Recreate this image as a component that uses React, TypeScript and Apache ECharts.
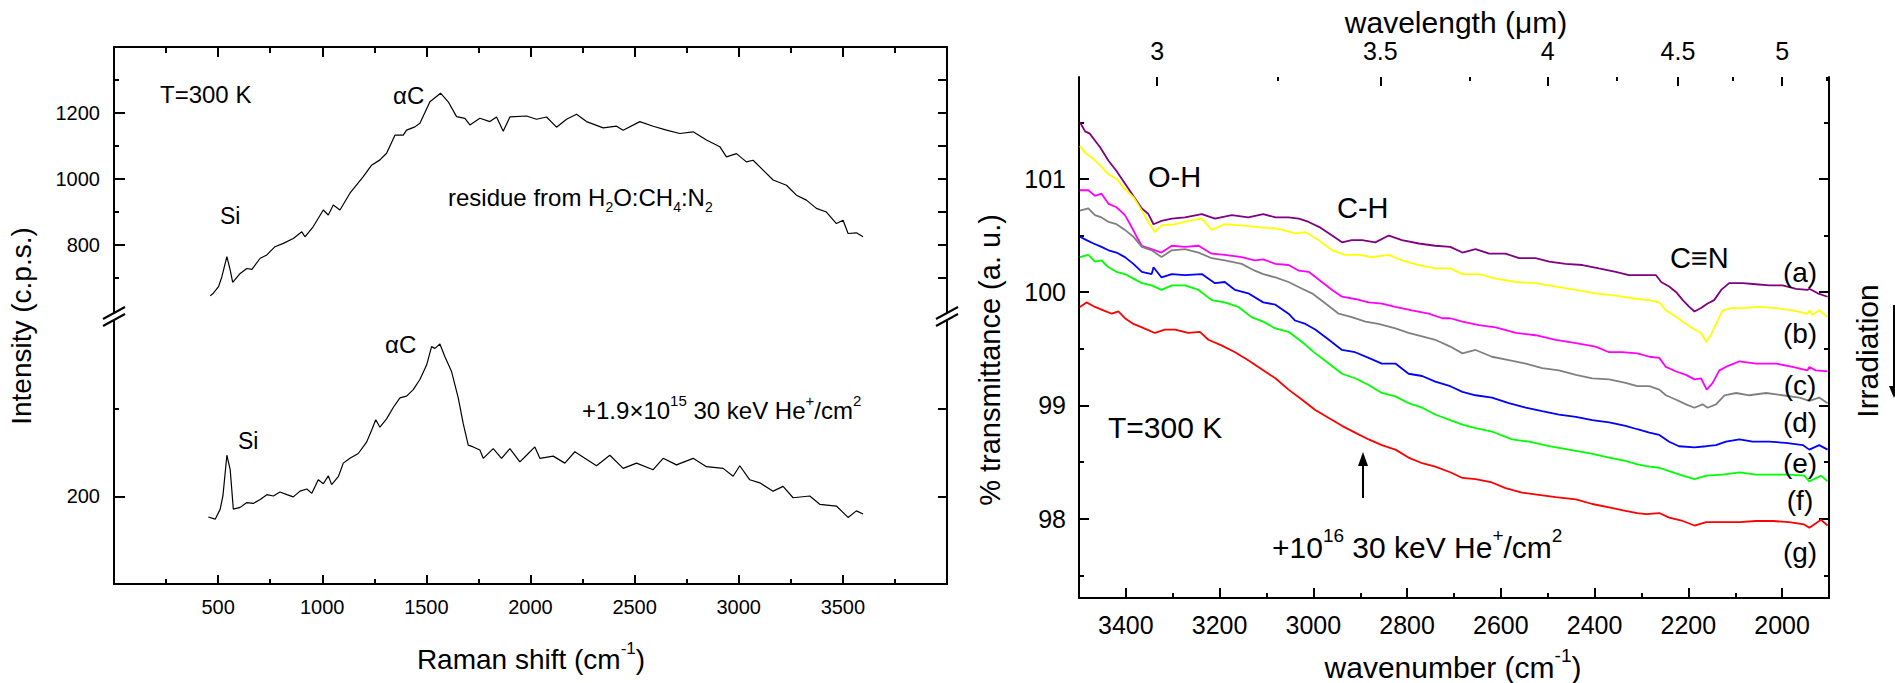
import React, { useEffect, useRef } from "react";
import * as echarts from "echarts";

const FONT = '"Liberation Sans", Arial, Helvetica, sans-serif';

// ---------- Left panel: Raman spectra (x: Raman shift cm-1, y: intensity c.p.s.) ----------
const ramanResidue: number[][] = [
  [462, 646], [477, 654], [502, 674], [518, 704], [542, 765], [558, 724], [570, 687], [606, 714],
  [638, 729], [662, 726], [702, 760], [734, 770], [773, 795], [813, 805], [861, 820], [902, 840],
  [917, 825], [957, 856], [1005, 906], [1029, 891], [1053, 921], [1085, 906], [1133, 957], [1197, 1007],
  [1237, 1042], [1277, 1058], [1309, 1078], [1349, 1133], [1389, 1133], [1405, 1148], [1445, 1158],
  [1469, 1169], [1517, 1234], [1568, 1260], [1605, 1234], [1645, 1189], [1685, 1184], [1709, 1164],
  [1757, 1184], [1805, 1174], [1837, 1188], [1869, 1145], [1901, 1188], [1981, 1191], [2029, 1181],
  [2077, 1188], [2125, 1157], [2173, 1181], [2221, 1196], [2269, 1174], [2349, 1155], [2413, 1160],
  [2445, 1148], [2525, 1174], [2589, 1160], [2653, 1148], [2717, 1138], [2781, 1143], [2845, 1118],
  [2909, 1098], [2941, 1067], [2989, 1077], [3037, 1052], [3069, 1057], [3117, 1027], [3165, 997],
  [3229, 981], [3277, 951], [3325, 936], [3373, 911], [3421, 900], [3469, 865], [3501, 875],
  [3525, 835], [3565, 837], [3597, 825],
];

const ramanIrradiated: number[][] = [
  [453, 153], [486, 148], [510, 171], [523, 201], [542, 294], [558, 261], [573, 171], [606, 175],
  [638, 186], [669, 184], [702, 193], [734, 204], [765, 201], [797, 210], [830, 204], [861, 199],
  [893, 212], [926, 217], [950, 207], [981, 238], [1005, 229], [1029, 247], [1045, 227], [1078, 246],
  [1101, 276], [1133, 287], [1173, 298], [1213, 324], [1237, 351], [1257, 375], [1277, 358],
  [1309, 377], [1341, 403], [1373, 425], [1405, 429], [1437, 444], [1469, 467], [1501, 500],
  [1525, 542], [1541, 538], [1565, 548], [1589, 519], [1621, 485], [1653, 425], [1677, 366],
  [1701, 317], [1725, 313], [1757, 306], [1773, 287], [1821, 309], [1861, 287], [1901, 309],
  [1949, 279], [1981, 294], [2021, 313], [2045, 287], [2109, 292], [2165, 276], [2213, 302],
  [2261, 287], [2317, 270], [2381, 294], [2445, 264], [2509, 276], [2589, 261], [2637, 287],
  [2701, 272], [2781, 287], [2845, 268], [2925, 264], [2973, 246], [3005, 270], [3053, 238],
  [3101, 231], [3165, 212], [3213, 223], [3261, 197], [3341, 201], [3389, 182], [3469, 178],
  [3525, 152], [3565, 167], [3597, 160],
];

const ramanXLabels = [500, 1000, 1500, 2000, 2500, 3000, 3500];
const upperYLabels = [800, 1000, 1200];
const upperYMinor = [700, 900, 1100, 1300];
const lowerYLabels = [200];
const lowerYMinor = [400];

// ---------- Right panel: IR transmittance (x: wavenumber cm-1, y: % transmittance) ----------
const seriesA: number[][] = [
  [3498, 101.5], [3487, 101.42], [3477, 101.4], [3466, 101.34], [3455, 101.28], [3437, 101.16], [3420, 101.07],
  [3402, 100.96], [3384, 100.85], [3366, 100.74], [3352, 100.69], [3341, 100.6], [3324, 100.63], [3302, 100.65],
  [3274, 100.66], [3238, 100.69], [3210, 100.65], [3174, 100.68], [3139, 100.66], [3107, 100.69], [3081, 100.66],
  [3053, 100.66], [3031, 100.65], [3010, 100.62], [2985, 100.57], [2960, 100.5], [2939, 100.44], [2918, 100.46],
  [2896, 100.46], [2868, 100.44], [2839, 100.5], [2811, 100.46], [2775, 100.43], [2740, 100.41], [2708, 100.4],
  [2682, 100.35], [2654, 100.38], [2625, 100.34], [2590, 100.34], [2561, 100.3], [2526, 100.3], [2497, 100.27],
  [2462, 100.25], [2426, 100.24], [2391, 100.21], [2355, 100.18], [2327, 100.15], [2309, 100.15], [2290, 100.15],
  [2269, 100.15], [2258, 100.09], [2241, 100.05], [2226, 100.0], [2212, 99.93], [2198, 99.87], [2187, 99.83],
  [2173, 99.86], [2159, 99.9], [2145, 99.93], [2130, 100.02], [2113, 100.08], [2084, 100.08], [2056, 100.07],
  [2027, 100.06], [1999, 100.06], [1970, 100.03], [1946, 100.02], [1942, 100.03], [1924, 99.99], [1903, 99.96],
];
const seriesB: number[][] = [
  [3498, 101.29], [3487, 101.23], [3473, 101.19], [3455, 101.12], [3437, 101.04], [3420, 101.0], [3402, 100.91],
  [3384, 100.84], [3366, 100.72], [3352, 100.62], [3338, 100.53], [3324, 100.59], [3295, 100.6], [3267, 100.63],
  [3238, 100.65], [3217, 100.55], [3189, 100.6], [3153, 100.59], [3107, 100.57], [3074, 100.56], [3039, 100.52],
  [3017, 100.53], [2989, 100.46], [2960, 100.37], [2932, 100.33], [2903, 100.33], [2875, 100.31], [2839, 100.33],
  [2811, 100.28], [2775, 100.24], [2740, 100.21], [2708, 100.21], [2682, 100.16], [2647, 100.16], [2611, 100.12],
  [2568, 100.09], [2526, 100.08], [2483, 100.05], [2440, 100.02], [2398, 99.99], [2355, 99.97], [2309, 99.94],
  [2283, 99.93], [2262, 99.91], [2248, 99.84], [2226, 99.78], [2205, 99.72], [2187, 99.67], [2173, 99.64],
  [2162, 99.56], [2152, 99.62], [2141, 99.72], [2127, 99.84], [2109, 99.86], [2084, 99.86], [2049, 99.87],
  [2013, 99.86], [1978, 99.84], [1946, 99.81], [1942, 99.84], [1935, 99.8], [1921, 99.84], [1903, 99.78],
];
const seriesC: number[][] = [
  [3498, 100.9], [3480, 100.9], [3466, 100.85], [3452, 100.87], [3437, 100.78], [3420, 100.75], [3402, 100.68],
  [3391, 100.6], [3377, 100.49], [3366, 100.41], [3345, 100.38], [3324, 100.35], [3302, 100.41], [3274, 100.4],
  [3245, 100.41], [3217, 100.34], [3189, 100.33], [3153, 100.31], [3125, 100.28], [3107, 100.29], [3081, 100.25],
  [3053, 100.24], [3031, 100.19], [3010, 100.18], [2982, 100.09], [2960, 100.02], [2939, 99.96], [2911, 99.94],
  [2882, 99.91], [2854, 99.9], [2825, 99.87], [2790, 99.84], [2754, 99.81], [2725, 99.77], [2708, 99.77],
  [2682, 99.74], [2647, 99.71], [2611, 99.69], [2568, 99.64], [2526, 99.62], [2483, 99.58], [2440, 99.55],
  [2398, 99.52], [2369, 99.47], [2341, 99.47], [2309, 99.46], [2283, 99.43], [2262, 99.42], [2248, 99.34],
  [2226, 99.3], [2205, 99.27], [2187, 99.23], [2173, 99.24], [2161, 99.14], [2148, 99.2], [2134, 99.31],
  [2120, 99.34], [2091, 99.39], [2056, 99.37], [2013, 99.37], [1978, 99.34], [1946, 99.31], [1942, 99.34],
  [1928, 99.31], [1903, 99.3],
];
const seriesD: number[][] = [
  [3498, 100.72], [3480, 100.74], [3466, 100.68], [3452, 100.66], [3437, 100.62], [3420, 100.6], [3402, 100.55],
  [3384, 100.49], [3366, 100.4], [3345, 100.37], [3324, 100.31], [3302, 100.37], [3274, 100.38], [3245, 100.35],
  [3217, 100.3], [3189, 100.28], [3153, 100.25], [3125, 100.19], [3107, 100.16], [3081, 100.13], [3053, 100.09],
  [3024, 100.03], [3003, 99.99], [2974, 99.9], [2946, 99.81], [2918, 99.78], [2889, 99.74], [2861, 99.72],
  [2825, 99.68], [2797, 99.64], [2768, 99.61], [2740, 99.58], [2708, 99.52], [2682, 99.46], [2654, 99.49],
  [2619, 99.43], [2583, 99.4], [2547, 99.37], [2512, 99.33], [2476, 99.31], [2440, 99.27], [2405, 99.24],
  [2369, 99.23], [2334, 99.2], [2309, 99.17], [2283, 99.17], [2262, 99.14], [2248, 99.09], [2226, 99.05],
  [2205, 99.01], [2187, 98.98], [2170, 99.01], [2159, 98.98], [2141, 99.01], [2123, 99.09], [2098, 99.11],
  [2070, 99.09], [2034, 99.11], [1999, 99.09], [1963, 99.07], [1942, 99.04], [1921, 99.07], [1903, 99.02],
];
const seriesE: number[][] = [
  [3498, 100.49], [3484, 100.46], [3469, 100.43], [3452, 100.4], [3437, 100.37], [3420, 100.35], [3402, 100.31],
  [3384, 100.25], [3366, 100.18], [3345, 100.16], [3341, 100.22], [3324, 100.13], [3302, 100.16], [3274, 100.15],
  [3238, 100.16], [3210, 100.08], [3189, 100.09], [3167, 100.02], [3139, 99.99], [3107, 99.91], [3081, 99.89],
  [3053, 99.81], [3039, 99.75], [3017, 99.72], [2996, 99.67], [2967, 99.58], [2939, 99.49], [2911, 99.47],
  [2882, 99.42], [2854, 99.37], [2825, 99.37], [2797, 99.28], [2768, 99.26], [2740, 99.21], [2708, 99.17],
  [2682, 99.12], [2654, 99.09], [2619, 99.07], [2583, 99.02], [2547, 98.98], [2512, 98.95], [2476, 98.92],
  [2440, 98.9], [2405, 98.87], [2369, 98.85], [2334, 98.82], [2309, 98.79], [2283, 98.76], [2262, 98.74],
  [2241, 98.68], [2220, 98.64], [2187, 98.63], [2162, 98.64], [2141, 98.65], [2120, 98.68], [2091, 98.7],
  [2063, 98.68], [2027, 98.68], [1992, 98.67], [1956, 98.65], [1942, 98.61], [1921, 98.65], [1903, 98.61],
];
const seriesF: number[][] = [
  [3498, 100.31], [3480, 100.33], [3466, 100.27], [3452, 100.28], [3437, 100.22], [3420, 100.18], [3402, 100.16],
  [3384, 100.12], [3366, 100.08], [3345, 100.06], [3324, 100.02], [3302, 100.06], [3274, 100.06], [3245, 100.02],
  [3217, 99.93], [3189, 99.91], [3160, 99.87], [3132, 99.78], [3107, 99.74], [3081, 99.68], [3053, 99.65],
  [3024, 99.56], [2996, 99.46], [2967, 99.37], [2939, 99.28], [2911, 99.24], [2882, 99.18], [2854, 99.11],
  [2825, 99.08], [2797, 99.02], [2768, 98.98], [2740, 98.92], [2708, 98.87], [2682, 98.83], [2654, 98.8],
  [2619, 98.77], [2576, 98.7], [2540, 98.68], [2497, 98.64], [2455, 98.61], [2412, 98.58], [2369, 98.54],
  [2334, 98.51], [2309, 98.48], [2283, 98.46], [2262, 98.45], [2241, 98.42], [2212, 98.38], [2187, 98.35],
  [2162, 98.38], [2127, 98.39], [2091, 98.41], [2056, 98.39], [2020, 98.39], [1985, 98.39], [1953, 98.38],
  [1942, 98.33], [1917, 98.38], [1903, 98.33],
];
const seriesG: number[][] = [
  [3498, 99.87], [3484, 99.91], [3466, 99.87], [3448, 99.84], [3430, 99.81], [3416, 99.83], [3402, 99.77],
  [3384, 99.72], [3366, 99.69], [3338, 99.64], [3317, 99.67], [3295, 99.67], [3267, 99.64], [3242, 99.65],
  [3224, 99.58], [3196, 99.53], [3167, 99.47], [3139, 99.4], [3107, 99.31], [3081, 99.24], [3053, 99.14],
  [3024, 99.05], [2996, 98.96], [2967, 98.89], [2939, 98.82], [2911, 98.76], [2882, 98.7], [2854, 98.65],
  [2825, 98.61], [2797, 98.54], [2768, 98.49], [2740, 98.46], [2708, 98.41], [2682, 98.36], [2654, 98.35],
  [2619, 98.32], [2590, 98.27], [2555, 98.23], [2519, 98.21], [2483, 98.19], [2440, 98.17], [2405, 98.13],
  [2369, 98.1], [2334, 98.07], [2309, 98.05], [2290, 98.04], [2262, 98.05], [2241, 98.01], [2212, 97.98],
  [2187, 97.94], [2162, 97.97], [2127, 97.97], [2091, 97.97], [2056, 97.98], [2020, 97.98], [1985, 97.97],
  [1953, 97.95], [1942, 97.92], [1917, 97.99], [1903, 97.94],
];

const irSeries = [seriesA, seriesB, seriesC, seriesD, seriesE, seriesF, seriesG];
const irColors = ["#800080", "#FFFF00", "#FF00FF", "#808080", "#0000FF", "#00FF00", "#FF0000"];
const irLabels = ["(a)", "(b)", "(c)", "(d)", "(e)", "(f)", "(g)"];

const wnLabels = [2000, 2200, 2400, 2600, 2800, 3000, 3200, 3400];
const wnMinor = [2100, 2300, 2500, 2700, 2900, 3100, 3300];
const wlLabels = [3, 3.5, 4, 4.5, 5];
const wlMinor = [3.25, 3.75, 4.25, 4.75, 5.25];
const trLabels = [98, 99, 100, 101];
const trMinor = [97.5, 98.5, 99.5, 100.5, 101.5];

// ---------- helpers ----------
const BLACK = "#000";
const plain = (v: number) => String(v);

function richFor(size: number) {
  const s = Math.round(size * 0.62);
  const b = Math.round(size * 0.6);
  return {
    sup: { fontSize: s, lineHeight: s, verticalAlign: "top", fontFamily: FONT, fill: BLACK },
    sub: { fontSize: b, lineHeight: b, verticalAlign: "bottom", fontFamily: FONT, fill: BLACK },
  };
}

function txt(text: string, x: number, y: number, size: number, align = "left", rotation = 0) {
  return {
    type: "text",
    x,
    y,
    rotation,
    z: 50,
    style: {
      text,
      fontSize: size,
      fontFamily: FONT,
      fill: BLACK,
      align,
      verticalAlign: "middle",
      textAlign: align,
      textVerticalAlign: "middle",
      lineHeight: Math.round(size * 1.4),
      rich: richFor(size),
    },
  };
}

function line(x1: number, y1: number, x2: number, y2: number, w = 2) {
  return { type: "line", z: 60, shape: { x1, y1, x2, y2 }, style: { stroke: BLACK, lineWidth: w } };
}

function breakMark(cx: number, cy: number) {
  return [
    {
      type: "polygon",
      z: 55,
      shape: { points: [[cx - 11, cy + 3], [cx + 11, cy - 9], [cx + 11, cy - 2], [cx - 11, cy + 10]] },
      style: { fill: "#fff", stroke: "none" },
    },
    line(cx - 11, cy + 3, cx + 11, cy - 9, 2),
    line(cx - 11, cy + 10, cx + 11, cy - 2, 2),
  ];
}

function valueAxis(extra: any) {
  return {
    type: "value",
    splitLine: { show: false },
    axisLine: { show: false },
    axisTick: { show: false },
    axisLabel: { show: false },
    ...extra,
  };
}

const axisLineOn = { show: true, onZero: false, lineStyle: { color: BLACK, width: 2 } };
const tickStyle = { color: BLACK, width: 2 };

function ticksOnly(values: number[], length: number) {
  return { show: true, inside: true, length, customValues: values, lineStyle: tickStyle };
}

export default function App() {
  const ref = useRef<HTMLDivElement>(null);

  useEffect(() => {
    const chart = echarts.init(ref.current as HTMLDivElement, null, { renderer: "svg" });

    const leftX = { min: 0, max: 4000, interval: 500 };
    const irX = { min: 1900, max: 3500, inverse: true };
    const upY = { min: 585, max: 1400 };
    const loY = { min: 0, max: 612 };
    const trY = { min: 97.3, max: 101.9 };

    const xAxis: any[] = [
      // 0: left upper grid, top edge
      valueAxis({
        gridIndex: 0, position: "top", ...leftX,
        axisLine: axisLineOn,
        axisTick: { show: true, inside: true, length: 10, lineStyle: tickStyle },
        minorTick: { show: true, splitNumber: 2, length: 6, lineStyle: tickStyle },
      }),
      // 1: left lower grid, bottom edge
      valueAxis({
        gridIndex: 1, position: "bottom", ...leftX,
        axisLine: axisLineOn,
        axisTick: { show: true, inside: true, length: 9, lineStyle: tickStyle },
        minorTick: { show: true, splitNumber: 2, length: 5, lineStyle: tickStyle },
        axisLabel: {
          show: true, margin: 13, fontSize: 20, fontFamily: FONT, color: BLACK,
          customValues: ramanXLabels, formatter: plain,
        },
      }),
      // 2: right grid bottom (wavenumber)
      valueAxis({
        gridIndex: 2, position: "bottom", ...irX,
        axisLine: axisLineOn,
        axisTick: ticksOnly(wnLabels, 10),
        axisLabel: {
          show: true, margin: 14, fontSize: 25, fontFamily: FONT, color: BLACK,
          customValues: wnLabels, formatter: plain,
        },
      }),
      // 3: right grid bottom minor ticks
      valueAxis({ gridIndex: 2, position: "bottom", ...irX, axisTick: ticksOnly(wnMinor, 5) }),
      // 4: right grid top (wavelength, um)
      valueAxis({
        gridIndex: 2, position: "top", ...irX,
        axisTick: ticksOnly(wlLabels.map((l) => 10000 / l), 9),
        axisLabel: {
          show: true, margin: 14, fontSize: 25, fontFamily: FONT, color: BLACK,
          customValues: wlLabels.map((l) => 10000 / l),
          formatter: (v: number) => String(Math.round((10000 / v) * 100) / 100),
        },
      }),
      // 5: right grid top minor
      valueAxis({ gridIndex: 2, position: "top", ...irX, axisTick: ticksOnly(wlMinor.map((l) => 10000 / l), 4) }),
    ];

    const yAxis: any[] = [
      // 0: upper left
      valueAxis({
        gridIndex: 0, position: "left", ...upY,
        axisLine: axisLineOn,
        axisTick: ticksOnly(upperYLabels, 11),
        axisLabel: {
          show: true, margin: 14, fontSize: 20, fontFamily: FONT, color: BLACK,
          customValues: upperYLabels, formatter: plain,
        },
      }),
      // 1: upper left minor
      valueAxis({ gridIndex: 0, position: "left", ...upY, axisTick: ticksOnly(upperYMinor, 5) }),
      // 2: upper right
      valueAxis({
        gridIndex: 0, position: "right", ...upY, axisLine: axisLineOn,
        axisTick: ticksOnly([...upperYLabels, ...upperYMinor], 9),
      }),
      // 3: lower left
      valueAxis({
        gridIndex: 1, position: "left", ...loY,
        axisLine: axisLineOn,
        axisTick: ticksOnly(lowerYLabels, 11),
        axisLabel: {
          show: true, margin: 14, fontSize: 20, fontFamily: FONT, color: BLACK,
          customValues: lowerYLabels, formatter: plain,
        },
      }),
      // 4: lower left minor
      valueAxis({ gridIndex: 1, position: "left", ...loY, axisTick: ticksOnly(lowerYMinor, 5) }),
      // 5: lower right
      valueAxis({
        gridIndex: 1, position: "right", ...loY, axisLine: axisLineOn,
        axisTick: ticksOnly([...lowerYLabels, ...lowerYMinor], 9),
      }),
      // 6: right panel left
      valueAxis({
        gridIndex: 2, position: "left", ...trY,
        axisLine: axisLineOn,
        axisTick: ticksOnly(trLabels, 10),
        axisLabel: {
          show: true, margin: 13, fontSize: 25, fontFamily: FONT, color: BLACK,
          customValues: trLabels, formatter: plain,
        },
      }),
      // 7: right panel left minor
      valueAxis({ gridIndex: 2, position: "left", ...trY, axisTick: ticksOnly(trMinor, 5) }),
      // 8: right panel right
      valueAxis({ gridIndex: 2, position: "right", ...trY, axisLine: axisLineOn, axisTick: ticksOnly(trLabels, 10) }),
      // 9: right panel right minor
      valueAxis({ gridIndex: 2, position: "right", ...trY, axisTick: ticksOnly(trMinor, 5) }),
    ];

    const series: any[] = [
      {
        type: "line", name: "residue", xAxisIndex: 0, yAxisIndex: 0, data: ramanResidue,
        showSymbol: false, symbol: "none", lineStyle: { color: BLACK, width: 1.2 }, silent: true,
      },
      {
        type: "line", name: "irradiated", xAxisIndex: 1, yAxisIndex: 3, data: ramanIrradiated,
        showSymbol: false, symbol: "none", lineStyle: { color: BLACK, width: 1.2 }, silent: true,
      },
      ...irSeries.map((d, i) => ({
        type: "line", name: irLabels[i], xAxisIndex: 2, yAxisIndex: 6, data: d,
        showSymbol: false, symbol: "none", lineStyle: { color: irColors[i], width: 1.8 }, silent: true,
      })),
    ];

    const labelY = [272, 333, 385, 422, 463, 500, 552];

    const graphic: any[] = [
      // left panel annotations
      txt("T=300 K", 160, 94, 24),
      txt("\u03b1C", 393, 95, 24),
      txt("Si", 220, 216, 23),
      txt("residue from H{sub|2}O:CH{sub|4}:N{sub|2}", 448, 197, 24),
      txt("\u03b1C", 385, 344, 24),
      txt("Si", 238, 441, 23),
      txt("+1.9\u00d710{sup|15} 30 keV He{sup|+}/cm{sup|2}", 582, 410, 24),
      txt("Intensity (c.p.s.)", 21, 326, 28, "center", Math.PI / 2),
      txt("Raman shift (cm{sup|-1})", 531, 659, 28, "center"),
      ...breakMark(114, 316),
      ...breakMark(947, 316),
      // right panel annotations
      txt("O-H", 1148, 177, 29),
      txt("C-H", 1337, 208, 29),
      txt("C\u2261N", 1670, 258, 29),
      txt("T=300 K", 1108, 427, 30),
      txt("+10{sup|16} 30 keV He{sup|+}/cm{sup|2}", 1272, 547, 30),
      ...irLabels.map((l, i) => txt(l, 1800, labelY[i], 28, "center")),
      txt("Irradiation", 1867, 351, 30, "center", Math.PI / 2),
      txt("% transmittance (a. u.)", 990, 360, 29, "center", Math.PI / 2),
      txt("wavenumber (cm{sup|-1})", 1453, 667, 30, "center"),
      txt("wavelength (\u03bcm)", 1456, 22, 30, "center"),
      // arrows
      line(1363, 498, 1363, 462, 2),
      { type: "polygon", z: 60, shape: { points: [[1358, 466], [1368, 466], [1363, 452]] }, style: { fill: BLACK } },
      line(1894, 305, 1894, 388, 2),
      { type: "polygon", z: 60, shape: { points: [[1889, 386], [1899, 386], [1894, 398]] }, style: { fill: BLACK } },
    ];

    chart.setOption({
      animation: false,
      backgroundColor: "#fff",
      textStyle: { fontFamily: FONT },
      grid: [
        { left: 114, top: 47, width: 833, height: 269, containLabel: false },
        { left: 114, top: 316, width: 833, height: 268, containLabel: false },
        { left: 1079, top: 77, width: 750, height: 521, containLabel: false },
      ],
      xAxis,
      yAxis,
      series,
      graphic,
    });

    return () => chart.dispose();
  }, []);

  return (
    <div
      ref={ref}
      style={{ position: "absolute", left: 0, top: 0, width: 1895, height: 683, background: "#fff" }}
    />
  );
}
